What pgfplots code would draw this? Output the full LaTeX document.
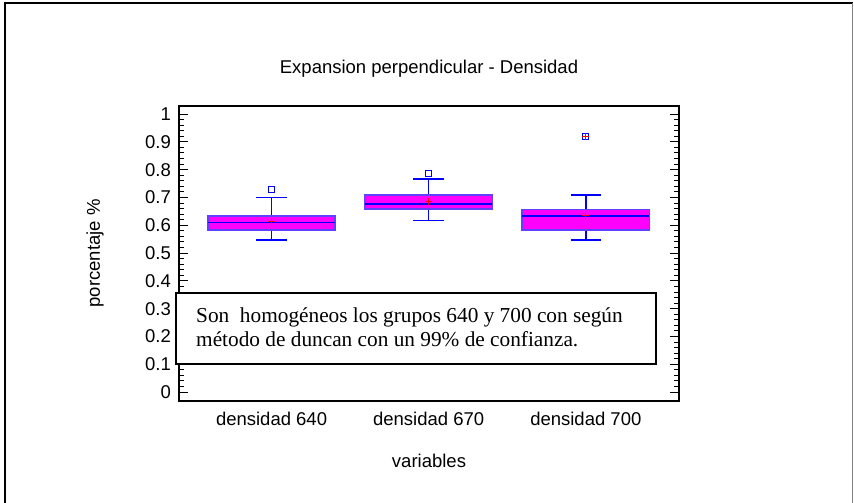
\documentclass[border=0pt]{standalone}
\usepackage{pgfplots}
\pgfplotsset{compat=1.18}
\usepgfplotslibrary{statistics}
\usepackage{fontspec}
\setmainfont{Liberation Sans}
\newfontfamily\serifnote{Liberation Serif}

\definecolor{boxfill}{RGB}{255,0,255}
\definecolor{boxedge}{RGB}{95,65,255}
\definecolor{whisk}{RGB}{0,0,255}

\newcommand{\lblfont}{\fontsize{18.5}{22}\selectfont}

\begin{document}
\begin{tikzpicture}
% page area and outer frame
\path[use as bounding box] (0pt,0pt) rectangle (854pt,-503pt);
\draw[line width=2pt] (4.5pt,-503pt) -- (4.5pt,-3.5pt) -- (853pt,-3.5pt);
\draw[gray, line width=1pt] (852.5pt,-3.5pt) -- (852.5pt,-503pt);

\begin{axis}[
  at={(179pt,-401pt)}, anchor=south west,
  scale only axis, width=500pt, height=295pt,
  xmin=0.411, xmax=3.593, ymin=-0.032, ymax=1.029,
  ytick={0,0.1,0.2,0.3,0.4,0.5,0.6,0.7,0.8,0.9,1},
  minor y tick num=4,
  xtick={1,2,3},
  xticklabels={densidad 640, densidad 670, densidad 700},
  tick align=inside, ytick pos=both,
  major tick length=9pt, minor tick length=5pt,
  x tick style={draw=none},
  tick style={black, line width=1pt},
  axis line style={line width=1.2pt},
  ticklabel style={font=\lblfont},
  /pgf/number format/assume math mode=true,
  yticklabel style={anchor=east, inner sep=0pt, xshift=-8pt},
  xticklabel style={anchor=base, inner sep=0pt, yshift=-24pt},
  title={Expansion perpendicular - Densidad},
  title style={at={(axis description cs:0.5,1.089)}, anchor=base, font=\lblfont},
  xlabel={variables},
  xlabel style={at={(axis description cs:0.5,-0.227)}, anchor=base, font=\lblfont},
  ylabel={porcentaje \%},
  ylabel style={at={(axis description cs:-0.168,0.5)}, anchor=center, font=\lblfont},
  boxplot/draw direction=y,
  boxplot/every box/.style={fill=boxfill, draw=boxedge, line width=1.5pt},
  boxplot/every median/.style={draw=whisk, line width=1.4pt},
  boxplot/every whisker/.style={draw=whisk, line width=1.4pt},
  clip=false,
]
% densidad 640
\addplot[whisk, mark=square, mark size=3pt, mark options={whisk, line width=1pt, fill=none},
  boxplot prepared={draw position=1,
    lower whisker=0.547, lower quartile=0.583, median=0.609,
    upper quartile=0.633, upper whisker=0.699,
    box extend=0.81, whisker extend=0.195}]
  table[row sep=\\, y index=0] {data\\ 0.727\\};
% densidad 670
\addplot[whisk, mark=square, mark size=3pt, mark options={whisk, line width=1pt, fill=none},
  boxplot prepared={draw position=2,
    lower whisker=0.617, lower quartile=0.658, median=0.677,
    upper quartile=0.709, upper whisker=0.766,
    box extend=0.81, whisker extend=0.195}]
  table[row sep=\\, y index=0] {data\\ 0.788\\};
% densidad 700
\addplot[whisk, mark=square, mark size=3pt, mark options={whisk, line width=1pt, fill=none},
  boxplot prepared={draw position=3,
    lower whisker=0.547, lower quartile=0.583, median=0.633,
    upper quartile=0.657, upper whisker=0.709,
    box extend=0.81, whisker extend=0.195}]
  table[row sep=\\, y index=0] {data\\ 0.918\\};
% group means and far-out marker
\addplot[only marks, red, mark=+, mark size=3.5pt, mark options={line width=0.9pt, red}]
  coordinates {(1,0.613) (2,0.687) (3,0.634) (3,0.918)};
\end{axis}

% note box
\draw[line width=2pt, fill=white] (176pt,-292.5pt) rectangle (655.5pt,-363.5pt);
\node[anchor=base west, inner sep=0pt, font=\serifnote\fontsize{21.3}{25}\selectfont]
  at (196pt,-322.5pt) {Son\ \ homogéneos los grupos 640 y 700 con según};
\node[anchor=base west, inner sep=0pt, font=\serifnote\fontsize{21.3}{25}\selectfont]
  at (196pt,-346.7pt) {método de duncan con un 99\% de confianza.};
\end{tikzpicture}
\end{document}
